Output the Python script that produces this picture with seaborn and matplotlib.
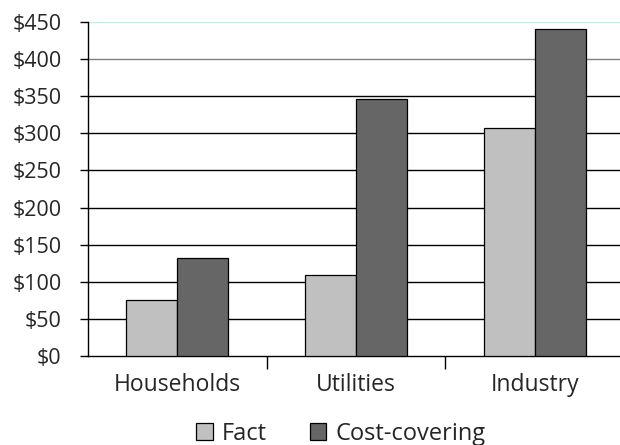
import matplotlib
matplotlib.use("Agg")
import matplotlib.pyplot as plt
import seaborn as sns
import pandas as pd
from matplotlib.patches import Patch
from matplotlib.ticker import FixedLocator

categories = ["Households", "Utilities", "Industry"]
series = ["Fact", "Cost-covering"]
fact = [75, 109, 307]
cost_covering = [132, 346, 441]
yticks = [0, 50, 100, 150, 200, 250, 300, 350, 400, 450]
colors = ["#c0c0c0", "#666666"]

df = pd.DataFrame({
    "category": categories * 2,
    "series": [series[0]] * 3 + [series[1]] * 3,
    "value": fact + cost_covering,
})

sns.set_style("white")
plt.rcParams["font.family"] = ["Open Sans", "DejaVu Sans"]

fig = plt.figure(figsize=(6.2, 4.45), dpi=100)
ax = fig.add_axes([0.142, 0.2, 0.858, 0.7506])

sns.barplot(data=df, x="category", y="value", hue="series", order=categories,
            hue_order=series, palette=colors, width=0.57, edgecolor="black",
            linewidth=0.9, ax=ax, legend=False, zorder=3)

ax.set_ylim(0, 450)
ax.set_xlim(-0.5, 2.4775)
ax.set_yticks(yticks)
ax.set_yticklabels([f"${v}" for v in yticks], fontsize=15.5)
ax.tick_params(axis="y", length=6, width=1, color="black", direction="out", pad=13, left=True)
ax.tick_params(axis="x", which="major", length=0, labelsize=16.5, pad=12)
ax.xaxis.set_minor_locator(FixedLocator([0.5, 1.5]))
ax.tick_params(axis="x", which="minor", length=9, width=1, color="black", direction="out", bottom=True)
ax.set_xlabel("")
ax.set_ylabel("")

for v in yticks[1:]:
    c = "#b8f0f0" if v == 450 else ("#808080" if v == 400 else "black")
    ax.axhline(v, color=c, linewidth=1, zorder=1)

for s in ["top", "right"]:
    ax.spines[s].set_visible(False)
for s in ["left", "bottom"]:
    ax.spines[s].set_color("black")
    ax.spines[s].set_linewidth(1)

handles = [Patch(facecolor=colors[i], edgecolor="black", linewidth=0.9, label=series[i]) for i in range(2)]
fig.legend(handles=handles, loc="center", bbox_to_anchor=(0.55, 0.025), ncol=2, frameon=False,
           fontsize=17, handlelength=0.7, handleheight=0.7, handletextpad=0.4, columnspacing=1.8)

fig.savefig("out.png", dpi=100)
